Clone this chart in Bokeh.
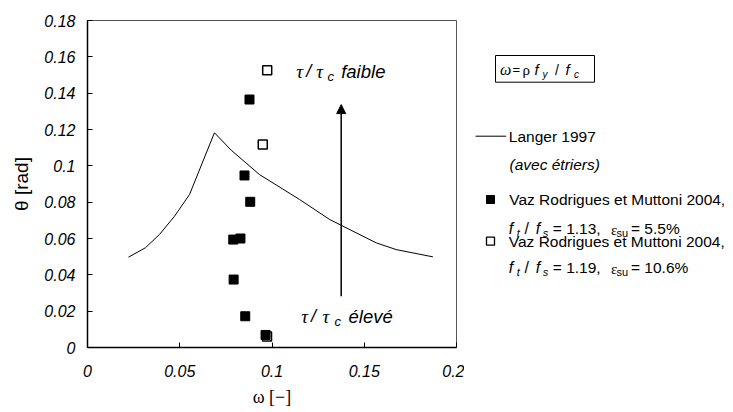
from bokeh.plotting import figure
from bokeh.layouts import row
from bokeh.models import (Range1d, FixedTicker, CustomJSTickFormatter, Label,
                          Arrow, NormalHead)
from bokeh.embed import file_html
from bokeh.resources import INLINE

# ---------------- data ----------------
langer_omega = [0.0222, 0.0314, 0.0390, 0.0472, 0.0553, 0.0688, 0.0779, 0.0932,
                0.1149, 0.1312, 0.1565, 0.1673, 0.1872]
langer_theta = [0.0497, 0.0549, 0.0622, 0.0723, 0.0842, 0.1182, 0.1086, 0.0952,
                0.0815, 0.0705, 0.0576, 0.0539, 0.0499]

vr55_omega = [0.0878, 0.0851, 0.0882, 0.0790, 0.0829, 0.0792, 0.0855, 0.0965]
vr55_theta = [0.1365, 0.0947, 0.0802, 0.0594, 0.0600, 0.0374, 0.0172, 0.0069]

vr106_omega = [0.0974, 0.0950, 0.0973]
vr106_theta = [0.1526, 0.1117, 0.0060]

x_ticks = [0, 0.05, 0.1, 0.15, 0.2]
y_ticks = [0, 0.02, 0.04, 0.06, 0.08, 0.1, 0.12, 0.14, 0.16, 0.18]

x_title = "ω [−]"
y_title = "θ [rad]"

SANS = "Liberation Sans"
SERIF = "Liberation Serif"

# ---------------- main plot ----------------
p = figure(width=464, height=411, output_backend="svg", toolbar_location=None,
           x_range=Range1d(0, 0.2), y_range=Range1d(0, 0.18),
           min_border_left=87, min_border_right=8, min_border_top=20,
           min_border_bottom=64, background_fill_color="white",
           border_fill_color="white")
p.grid.visible = False
p.outline_line_color = "#555555"
p.outline_line_width = 1

for ax in (p.xaxis[0], p.yaxis[0]):
    ax.major_label_text_font = SANS
    ax.major_label_text_font_style = "italic"
    ax.major_label_text_font_size = "16px"
    ax.major_label_text_color = "black"
    ax.major_tick_in = 5
    ax.major_tick_out = 0
    ax.minor_tick_in = 0
    ax.minor_tick_out = 0
    ax.axis_line_color = "black"
    ax.axis_line_width = 1.5
    ax.major_tick_line_color = "black"
    ax.major_tick_line_width = 1
    ax.axis_label_text_color = "black"
    ax.axis_label_text_font_style = "normal"
    ax.formatter = CustomJSTickFormatter(code="return tick.toString();")

p.xaxis.ticker = FixedTicker(ticks=x_ticks)
p.yaxis.ticker = FixedTicker(ticks=y_ticks)
p.xaxis.major_label_standoff = 17
p.yaxis.major_label_standoff = 12

p.xaxis.axis_label = x_title
p.xaxis.axis_label_text_font = SERIF
p.xaxis.axis_label_text_font_size = "18px"
p.xaxis.axis_label_standoff = 7

p.yaxis.axis_label = y_title
p.yaxis.axis_label_text_font = SANS
p.yaxis.axis_label_text_font_size = "19px"
p.yaxis.axis_label_standoff = 9

p.line(langer_omega, langer_theta, line_color="black", line_width=1)
p.scatter(vr106_omega, vr106_theta, marker="square", size=9,
          fill_color="white", line_color="black", line_width=1.5)
p.scatter(vr55_omega, vr55_theta, marker="square", size=9,
          fill_color="black", line_color="black", line_width=1)

p.add_layout(Arrow(end=NormalHead(size=9, fill_color="black", line_color="black"),
                   x_start=0.1375, y_start=0.0282, x_end=0.1375, y_end=0.1337,
                   line_color="black", line_width=1.5))

def lab(fig, x, y, text, font=SANS, size="15.5px", style="normal", align="left"):
    fig.add_layout(Label(x=x, y=y, text=text, text_font=font, text_font_size=size,
                         text_font_style=style, text_align=align,
                         text_baseline="middle", text_color="black"))

# tau / tau_c annotations
lab(p, 0.1131, 0.1522, "τ", SERIF, "19px", "italic")
lab(p, 0.1185, 0.1522, "/", SANS, "18px", "italic")
lab(p, 0.1240, 0.1522, "τ", SERIF, "19px", "italic")
lab(p, 0.1301, 0.1490, "c", SANS, "13px", "italic")
lab(p, 0.1375, 0.1522, "faible", SANS, "18.5px", "italic")

lab(p, 0.1158, 0.0172, "τ", SERIF, "19px", "italic")
lab(p, 0.1212, 0.0172, "/", SANS, "18px", "italic")
lab(p, 0.1274, 0.0172, "τ", SERIF, "19px", "italic")
lab(p, 0.1339, 0.0145, "c", SANS, "13px", "italic")
lab(p, 0.1415, 0.0172, "élevé", SANS, "18.5px", "italic")

# ---------------- legend panel (page-pixel coordinates) ----------------
lg = figure(width=262, height=411, output_backend="svg", toolbar_location=None,
            x_range=Range1d(465, 727), y_range=Range1d(348, 21),
            x_axis_location=None, y_axis_location=None,
            min_border_left=0, min_border_right=0, min_border_top=20,
            min_border_bottom=64,
            outline_line_color=None, background_fill_color="white",
            border_fill_color="white")
lg.grid.visible = False

# formula box
lg.quad(left=[496], right=[595], top=[56], bottom=[82.7], fill_color=None,
        line_color="black", line_width=1)
lab(lg, 500.5, 70, "ω", SERIF, "16px", "italic")
lab(lg, 513, 70, "=", SANS, "13px")
lab(lg, 523, 70.5, "ρ", SERIF, "15px")
lab(lg, 535, 70, "f", SANS, "15px", "italic")
lab(lg, 543, 74.5, "y", SANS, "10px", "italic")
lab(lg, 555.5, 70, "/", SANS, "14px")
lab(lg, 566, 70, "f", SANS, "15px", "italic")
lab(lg, 574.5, 74.5, "c", SANS, "10px", "italic")

# Langer
lg.line([476, 506.7], [136.7, 136.7], line_color="black", line_width=1)
lab(lg, 509.3, 136.7, "Langer 1997")
lab(lg, 510, 165, "(avec étriers)", style="italic")

def ratio_line(y, ratio, eps):
    lab(lg, 509.3, y, "f", SANS, "16px", "italic")
    lab(lg, 517.2, y + 4, "t", SANS, "11px", "italic")
    lab(lg, 525, y, "/", SANS, "16px")
    lab(lg, 536.2, y, "f", SANS, "16px", "italic")
    lab(lg, 543.3, y + 4, "s", SANS, "11px", "italic")
    lab(lg, 553.3, y, "= " + ratio + ",")
    lab(lg, 611.5, y + 1, "ε", SERIF, "15px")
    lab(lg, 617, y + 4, "su", SANS, "11px")
    lab(lg, 631.5, y, "= " + eps)

# Vaz Rodrigues 5.5%
lg.scatter([491], [200], marker="square", size=8, fill_color="black",
           line_color="black")
lab(lg, 509.7, 200, "Vaz Rodrigues et Muttoni 2004,")
ratio_line(229, "1.13", "5.5%")

# Vaz Rodrigues 10.6%
lg.scatter([491], [241.7], marker="square", size=8, fill_color="white",
           line_color="black", line_width=1.3)
lab(lg, 509.3, 241.7, "Vaz Rodrigues et Muttoni 2004,")
ratio_line(268.3, "1.19", "10.6%")

layout = row(p, lg)
open("out.html", "w").write(file_html(layout, INLINE))
